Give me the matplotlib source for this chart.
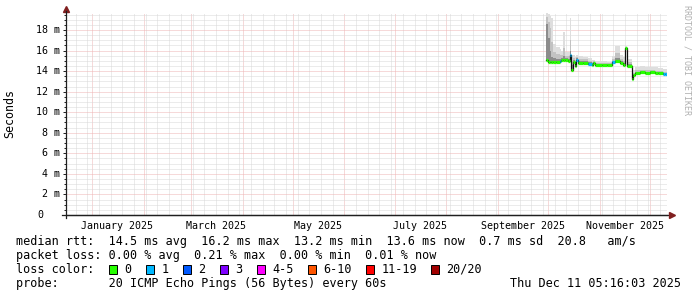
import numpy as np
import matplotlib
matplotlib.use("Agg")
from matplotlib import pyplot as plt
import matplotlib.dates as mdates
from matplotlib.patches import Rectangle

W, H = 697, 297

# median rtt per sample (ms), loss count (of 20 pings), smoke envelope (ms)
dates = ["2025-09-30", "2025-10-01", "2025-10-02", "2025-10-03", "2025-10-04",
         "2025-10-06", "2025-10-08", "2025-10-09", "2025-10-10", "2025-10-11",
         "2025-10-13", "2025-10-14", "2025-10-15", "2025-10-16", "2025-10-17",
         "2025-10-18", "2025-10-19", "2025-10-22", "2025-10-25", "2025-10-27",
         "2025-10-28", "2025-10-29", "2025-11-02", "2025-11-05", "2025-11-08",
         "2025-11-10", "2025-11-13", "2025-11-15", "2025-11-16", "2025-11-17",
         "2025-11-20", "2025-11-21", "2025-11-22", "2025-11-25", "2025-11-28",
         "2025-12-01", "2025-12-04", "2025-12-06", "2025-12-09", "2025-12-10",
         "2025-12-11"]
median_ms = [15.10, 14.85, 14.90, 14.90, 14.90, 14.90, 14.95, 15.10, 15.10, 15.05,
             15.00, 15.55, 14.10, 14.90, 14.50, 15.10, 14.82, 14.82, 14.70, 14.60,
             14.75, 14.57, 14.57, 14.55, 14.87, 15.00, 14.75, 14.60, 16.20, 14.45,
             13.25, 13.60, 13.85, 13.90, 13.85, 13.90, 13.85, 13.80, 13.75, 13.70,
             13.65]
loss = [0, 0, 0, 0, 0, 0, 1, 0, 0, 0,
        0, 1, 0, 0, 0, 1, 0, 0, 1, 0,
        0, 0, 0, 0, 1, 0, 0, 0, 0, 0,
        0, 0, 0, 0, 0, 0, 0, 0, 1, 1,
        0]
smoke_max = [19.70, 19.60, 19.40, 19.20, 16.60, 16.30, 16.10, 16.00, 17.80, 15.90,
             15.90, 19.20, 15.60, 15.60, 15.40, 15.60, 15.50, 15.40, 15.30, 15.10,
             15.10, 14.95, 14.95, 14.90, 15.50, 16.40, 15.60, 15.40, 16.40, 15.20,
             13.80, 14.10, 14.40, 14.45, 14.40, 14.40, 14.35, 14.30, 14.25, 14.20,
             14.10]
smoke_mid = [19.30, 18.80, 18.20, 16.80, 15.90, 15.70, 15.60, 15.60, 16.20, 15.50,
             15.50, 17.00, 15.00, 15.30, 15.00, 15.40, 15.20, 15.15, 15.00, 14.90,
             14.95, 14.80, 14.80, 14.75, 15.20, 15.80, 15.20, 15.00, 16.30, 14.90,
             13.50, 13.85, 14.10, 14.15, 14.10, 14.10, 14.05, 14.00, 13.95, 13.90,
             13.80]
smoke_core = [18.60, 17.20, 16.00, 15.40, 15.30, 15.20, 15.20, 15.30, 15.50, 15.25,
              15.20, 16.00, 14.60, 15.10, 14.80, 15.25, 15.00, 15.00, 14.85, 14.75,
              14.85, 14.70, 14.70, 14.65, 15.00, 15.30, 14.95, 14.80, 16.25, 14.65,
              13.40, 13.70, 13.95, 14.00, 13.95, 14.00, 13.95, 13.90, 13.85, 13.80,
              13.70]

loss_names = ["0", "1", "2", "3", "4-5", "6-10", "11-19", "20/20"]
loss_cols = ["#26ff00", "#00b8ff", "#0059ff", "#7e00ff", "#ff00ff", "#ff5500", "#ff0000", "#a10000"]

stats_line = "median rtt:  14.5 ms avg  16.2 ms max  13.2 ms min  13.6 ms now  0.7 ms sd  20.8   am/s"
loss_line = "packet loss: 0.00 % avg  0.21 % max  0.00 % min  0.01 % now"
probe_line = "probe:       20 ICMP Echo Pings (56 Bytes) every 60s"
stamp = "Thu Dec 11 05:16:03 2025"

yticks_ms = [0, 2, 4, 6, 8, 10, 12, 14, 16, 18]
month_labels = ["January 2025", "March 2025", "May 2025", "July 2025", "September 2025", "November 2025"]
month_label_pos = ["2025-01-16", "2025-03-16", "2025-05-16", "2025-07-16", "2025-09-16", "2025-11-16"]

t_end = np.datetime64("2025-12-11T05:16:03")
t_start = t_end - np.timedelta64(360, "D")

mono = "DejaVu Sans Mono"
fig = plt.figure(figsize=(W / 100, H / 100), dpi=100, facecolor="white")
ax = fig.add_axes([66 / W, (H - 215) / H, 601 / W, 202 / H])
ax.set_facecolor("white")

t = mdates.date2num(np.array(dates, dtype="datetime64[s]"))
te = mdates.date2num(t_end)
ts = mdates.date2num(t_start)
med = np.array(median_ms) / 1000.0
tp = np.append(t, te)
medp = np.append(med, med[-1])
hip = np.append(smoke_max, smoke_max[-1]) / 1000.0
midp = np.append(smoke_mid, smoke_mid[-1]) / 1000.0
corep = np.append(smoke_core, smoke_core[-1]) / 1000.0

ax.set_xlim(ts, te)
ax.set_ylim(0, 0.01965)

# grid: weekly (sunday) minor, monthly major
ax.xaxis.set_major_locator(mdates.MonthLocator())
ax.xaxis.set_minor_locator(mdates.WeekdayLocator(byweekday=mdates.SU))
ax.set_yticks(np.arange(0, 0.0196, 0.002))
ax.set_yticks(np.arange(0, 0.0196, 0.0005), minor=True)
ax.set_xticklabels([])
ax.set_yticklabels([])
ax.grid(which="minor", color="#d8d8d8", lw=0.72, ls=(0, (1, 1)))
ax.grid(which="major", color="#efb4b4", lw=0.72, ls=(0, (1, 1)))
ax.set_axisbelow(True)
ax.tick_params(axis="y", which="major", length=2.5, width=0.7, color="#1f1f1f")
ax.tick_params(axis="y", which="minor", length=1.5, width=0.7, color="#1f1f1f")
ax.tick_params(axis="x", which="both", length=0)

for s in ["top", "right"]:
    ax.spines[s].set_visible(False)
for s in ["left", "bottom"]:
    ax.spines[s].set_color("#1f1f1f")
    ax.spines[s].set_linewidth(0.9)
ax.spines["left"].set_bounds(-0.0003, 0.01985)
ax.plot([-0.006, 1.005], [0, 0], color="#1f1f1f", lw=0.9, transform=ax.transAxes, clip_on=False)
ax.plot([1.008], [0], marker=">", ms=4.5, color="#801f1f", transform=ax.transAxes, clip_on=False)
ax.plot([0], [1.02], marker="^", ms=4.5, color="#801f1f", transform=ax.transAxes, clip_on=False)

# smoke
ax.fill_between(tp, medp, hip, step="post", color="#dedede", lw=0, zorder=2)
ax.fill_between(tp, medp, midp, step="post", color="#c2c2c2", lw=0, zorder=2)
ax.fill_between(tp, medp, corep, step="post", color="#8c8c8c", lw=0, zorder=2)

# median line
ax.plot(tp, medp, drawstyle="steps-post", color="#101010", lw=0.9, zorder=3)
cat = [0, 1, 2, 3, 4, 4, 5, 5, 5, 5, 5, 6, 6, 6, 6, 6, 6, 6, 6, 6, 7]
seg_cols = [loss_cols[cat[n]] for n in loss]
ax.hlines(med, tp[:-1], tp[1:], colors=seg_cols, lw=2.3, zorder=4)

# axis labels
for v in yticks_ms:
    if v == 0:
        ax.text(-29 / 601, 0, "0", ha="left", va="center", fontsize=7.2, family=mono,
                transform=ax.get_yaxis_transform())
    else:
        ax.text(-6 / 601, v / 1000.0, "%d m" % v, ha="right", va="center", fontsize=7.2,
                family=mono, transform=ax.get_yaxis_transform())
for lab, d in zip(month_labels, month_label_pos):
    ax.text(mdates.date2num(np.datetime64(d)), -11 / 202, lab, ha="center", va="center",
            fontsize=7.2, family=mono, transform=ax.get_xaxis_transform())

def fx(x):
    return x / W

def fy(y):
    return 1 - y / H

fig.text(fx(10), fy(114), "Seconds", rotation=90, ha="center", va="center", fontsize=8.4, family=mono)
fig.text(fx(687), fy(60), "RRDTOOL / TOBI OETIKER", rotation=-90, ha="center", va="center",
         fontsize=6, family=mono, color="#b0b0b0")

fig.text(fx(16), fy(241), stats_line, ha="left", va="center", fontsize=8.5, family=mono)
fig.text(fx(16), fy(255.5), loss_line, ha="left", va="center", fontsize=8.5, family=mono)
fig.text(fx(16), fy(269.5), "loss color:", ha="left", va="center", fontsize=8.5, family=mono)
fig.text(fx(16), fy(283.5), probe_line, ha="left", va="center", fontsize=8.5, family=mono)
fig.text(fx(681), fy(283.5), stamp, ha="right", va="center", fontsize=8.5, family=mono)

box_x = [109, 146, 183, 220, 257, 308, 366, 431]
for bx, name, c in zip(box_x, loss_names, loss_cols):
    fig.patches.append(Rectangle((fx(bx), fy(274)), 8 / W, 9 / H, facecolor=c, edgecolor="black",
                                 lw=0.7, transform=fig.transFigure, figure=fig))
    fig.text(fx(bx + 15.5), fy(269.5), name, ha="left", va="center", fontsize=8.5, family=mono)

fig.savefig("out.png", dpi=100, facecolor="white")
